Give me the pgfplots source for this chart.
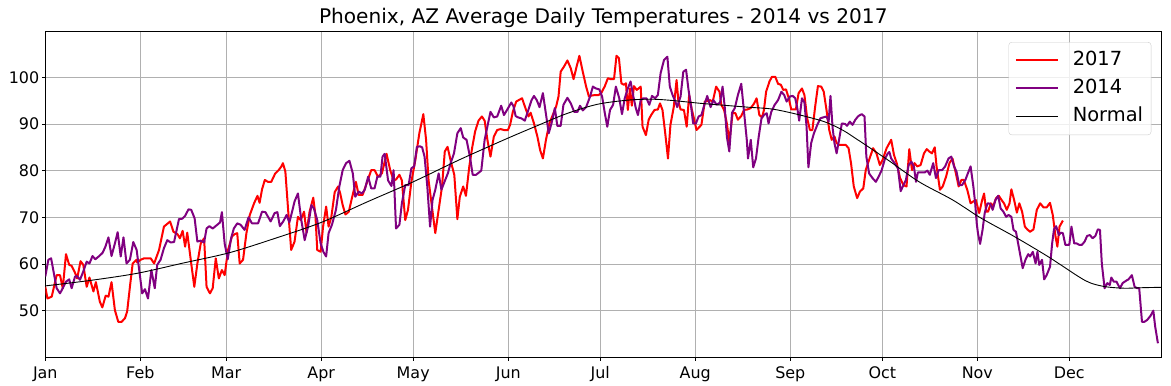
\documentclass[border=0pt]{standalone}
\usepackage{fontspec}
\setmainfont{DejaVu Sans}
\usepackage{pgfplots}
\pgfplotsset{compat=1.18}
\definecolor{gridgray}{HTML}{B0B0B0}
\definecolor{mplpurple}{HTML}{800080}
\definecolor{legedge}{HTML}{CCCCCC}
\begin{document}
\begin{tikzpicture}
\begin{axis}[
 name=ax,
 scale only axis, width=1116bp, height=326bp,
 xmin=0, xmax=364, ymin=40, ymax=109.85,
 xtick={0,31,59,90,120,151,181,212,243,273,304,334},
 xticklabels={Jan,Feb,Mar,Apr,May,Jun,Jul,Aug,Sep,Oct,Nov,Dec},
 ytick={50,60,70,80,90,100},
 grid=major, major grid style={gridgray, line width=0.8bp},
 tick align=outside, tick pos=left, major tick length=3.5bp,
 every tick/.style={black, line width=0.8bp},
 axis line style={black, line width=0.8bp},
 ticklabel style={font=\fontsize{16}{19}\selectfont},
 xticklabel style={yshift=-2.5bp},
 yticklabel style={xshift=1bp},
 /pgf/number format/assume math mode=true,
 title={Phoenix, AZ Average Daily Temperatures - 2014 vs 2017},
 title style={font=\fontsize{20.2}{24}\selectfont, at={(axis description cs:0.5,1)}, anchor=base, yshift=1.8bp, inner sep=0pt},
 legend style={at={(axis description cs:0.991,0.967)}, anchor=north east, draw=legedge, rounded corners=3bp, fill=white, fill opacity=0.8, text opacity=1, font=\fontsize{19.5}{23}\selectfont, inner xsep=6bp, inner ysep=7bp, row sep=5.5bp, nodes={inner sep=2bp, text depth=4bp}, /tikz/every odd column/.append style={column sep=12bp}},
 legend image code/.code={\draw[#1] (0bp,0bp) -- (42bp,0bp);},
 legend cell align=left,
]
\addplot[red, line width=2bp, line join=round] coordinates {
(0.0,55.1) (0.7,52.6) (2.1,53.0) (3.7,57.6) (4.8,57.6) (5.7,54.8) (6.75,62.1) (7.8,59.8) (8.6,59.6) (9.7,58.1) (10.4,56.9) (11.5,60.6) (12.4,59.8) (13.5,55.1) (14.4,57.1) (15.7,54.1) (16.5,56.1) (17.8,51.9) (18.6,50.7) (19.7,53.2) (20.6,53.0) (21.6,56.1) (22.7,50.1) (23.8,47.6) (24.9,47.6) (26.0,48.4) (26.7,49.8) (27.6,55.1) (28.5,60.1) (29.8,60.9)
(30.0,60.3) (31.1,60.9) (32.2,61.2) (34.4,61.2) (35.5,60.1) (37.1,63.0) (38.7,68.0) (40.7,69.1) (41.8,66.9) (43.1,66.4) (43.9,65.5) (44.8,67.1) (45.6,63.7) (46.3,66.7) (47.6,60.1) (48.6,55.1) (49.6,60.1) (50.7,64.4) (51.8,65.5) (52.6,55.1) (53.7,53.7) (54.6,54.8) (55.6,61.2) (56.6,56.9) (57.6,58.7) (58.5,57.6) (59.6,63.0) (60.9,65.9)
(61.8,66.4) (62.6,66.6) (63.4,60.1) (64.5,60.9) (65.6,66.6) (66.7,70.5) (68.1,73.0) (69.2,74.6) (69.9,73.1) (70.7,76.0) (71.6,78.0) (72.6,77.6) (73.7,77.6) (75.0,79.4) (76.1,80.1) (77.0,80.9) (77.5,81.6) (78.3,79.8) (79.2,71.6) (80.2,63.0) (81.3,64.8) (82.4,70.1) (83.3,69.4) (84.4,71.2) (85.2,66.7) (86.2,71.2) (87.4,74.2) (88.1,70.5) (88.7,63.0) (89.8,62.6) (90.6,68.0) (91.6,72.3)
(92.4,68.0) (93.3,70.1) (94.4,75.4) (95.5,76.6) (96.2,75.1) (97.0,72.6) (97.9,70.6) (99.0,71.2) (100.0,74.1) (101.3,77.6) (102.2,74.8) (103.5,74.8) (105.0,77.6) (106.3,80.1) (107.4,80.1) (108.5,78.7) (109.8,79.4) (111.3,83.6) (112.5,80.1) (113.6,77.9) (114.4,78.1) (115.5,79.1) (116.3,77.9) (117.4,69.4) (118.3,71.6) (119.4,77.6) (120.7,82.3) (122.0,88.0)
(123.3,92.1) (124.2,86.6) (125.0,78.0) (126.1,72.3) (127.2,66.6) (128.3,71.6) (129.4,76.6) (130.3,84.1) (131.2,85.1) (132.3,81.9) (133.4,79.1) (134.4,69.6) (135.2,74.4) (136.3,76.6) (137.2,74.6) (138.3,80.9) (139.2,84.8) (140.2,88.4) (141.3,90.7) (142.4,91.6) (143.3,90.7) (144.2,86.6) (145.2,83.0) (146.3,87.3) (147.4,88.7) (148.5,88.9) (149.6,88.7) (150.9,88.7) (151.6,89.8) (152.5,92.6)
(153.6,94.8) (154.4,95.1) (155.5,95.5) (156.6,93.4) (157.6,91.6) (158.3,92.4) (159.4,90.1) (160.5,87.3) (161.4,84.4) (162.3,82.6) (163.3,86.6) (164.4,90.1) (165.5,91.9) (166.6,93.7) (167.4,95.9) (168.1,101.2) (169.2,102.3) (170.3,103.6) (171.4,101.9) (172.3,99.6) (173.3,102.3) (174.2,104.6) (175.3,101.2) (176.4,98.0) (177.3,95.9) (178.3,96.1) (179.4,96.2) (180.5,96.2) (181.4,96.7) (182.5,98.1) (183.5,99.8)
(184.4,99.6) (185.5,99.6) (186.3,104.6) (187.1,104.1) (187.9,98.7) (188.7,98.4) (189.4,98.7) (190.0,93.0) (190.7,97.6) (191.3,93.9) (192.0,98.1) (192.9,97.3) (193.5,97.6) (194.2,98.0) (194.8,89.4) (195.9,87.6) (196.8,90.9) (197.6,91.9) (198.7,93.0) (199.8,93.1) (200.5,94.4) (201.3,93.0) (202.2,88.0) (203.1,82.6) (203.9,89.8) (205.0,93.7) (205.9,99.4) (206.5,94.8) (207.2,93.1) (208.3,93.0) (209.2,89.4) (210.0,96.2) (210.9,93.0) (211.5,91.4) (212.4,88.7) (214.0,89.8)
(215.1,94.8) (215.9,94.9) (216.8,95.1) (217.7,94.8) (218.8,98.0) (219.9,96.9) (220.5,94.1) (221.4,93.0) (222.3,90.1) (223.1,86.2) (224.2,92.4) (225.1,92.3) (225.9,90.9) (227.0,91.7) (227.9,93.0) (229.0,93.1) (230.1,93.4) (231.2,94.4) (232.0,95.5) (232.9,91.9) (233.8,91.4) (234.4,93.0) (235.1,96.9) (236.2,99.1) (237.0,100.1) (238.1,100.1) (239.0,98.6) (239.9,98.4) (240.7,97.3) (241.6,97.4) (242.5,95.5) (243.3,93.1) (244.8,93.1)
(245.7,96.6) (246.8,97.6) (247.6,96.2) (248.5,91.2) (249.4,88.7) (250.2,88.7) (251.1,93.7) (252.0,98.1) (253.1,98.0) (253.9,96.9) (254.8,93.0) (255.7,88.7) (256.5,86.6) (257.4,87.3) (258.1,85.9) (258.9,85.5) (260.0,85.5) (261.1,85.5) (262.0,84.8) (262.8,81.6) (263.7,76.6) (264.8,74.1) (265.7,75.5) (266.8,76.2) (267.6,80.1) (268.7,82.3) (270.0,84.8) (271.1,83.7) (272.2,81.2) (273.1,82.3) (274.4,84.8)
(275.9,86.6) (276.8,83.4) (277.7,81.6) (278.8,78.4) (279.9,76.9) (280.9,76.6) (281.8,84.6) (282.7,80.1) (283.5,81.6) (284.4,80.9) (285.5,81.2) (286.6,83.7) (287.5,84.6) (288.3,84.1) (289.2,83.7) (290.1,85.0) (290.7,80.9) (291.8,75.9) (292.7,76.6) (293.8,78.7) (294.9,81.6) (295.9,82.6) (297.0,79.4) (297.9,76.6) (298.8,78.0) (299.6,78.0) (300.7,75.9) (301.8,73.0) (302.7,73.4) (303.5,73.7) (304.6,70.9) (305.5,73.5) (306.2,75.1)
(306.9,71.2) (307.5,71.2) (308.4,73.0) (309.2,72.4) (310.1,74.1) (311.0,74.6) (311.9,73.7) (312.7,73.0) (313.6,71.6) (314.5,73.0) (315.1,76.0) (316.0,73.7) (316.9,71.0) (317.7,73.0) (318.6,71.2) (319.5,68.0) (320.3,67.4) (321.2,66.9) (322.3,67.4) (323.4,71.6) (324.5,73.0) (325.6,72.1) (326.6,72.1) (327.7,73.1) (328.6,70.5) (329.5,65.9) (330.1,63.7) (330.8,68.0) (331.9,69.3)
};
\addlegendentry{2017}
\addplot[mplpurple, line width=2bp, line join=round] coordinates {
(0.0,57.3) (1.0,60.9) (1.9,61.2) (2.6,58.7) (3.7,54.8) (4.8,53.7) (5.7,54.8) (6.75,56.2) (7.8,56.7) (8.6,54.8) (9.7,57.3) (10.4,57.4) (11.3,56.6) (12.4,58.4) (13.5,60.5) (14.4,60.1) (15.4,61.7) (16.3,61.0) (17.6,61.7) (18.7,62.4) (19.6,63.7) (20.6,65.7) (21.6,61.7) (22.7,64.4) (23.6,66.8) (24.6,61.6) (25.5,65.7) (26.5,60.1) (27.6,60.9) (28.7,64.7) (29.8,63.0)
(31.6,53.7) (32.5,54.6) (33.5,52.6) (34.6,58.7) (35.7,54.8) (36.5,59.8) (37.6,60.9) (38.7,63.4) (39.8,65.1) (40.9,64.6) (42.0,64.7) (43.6,69.6) (44.7,69.7) (45.6,70.3) (46.7,71.7) (47.6,71.6) (48.7,69.8) (49.6,64.8) (50.7,65.0) (51.8,64.6) (52.6,67.6) (53.5,68.1) (54.6,67.6) (56.1,68.4) (57.0,68.9) (57.6,71.1) (58.5,64.4) (59.5,61.0) (60.6,65.5)
(61.5,67.6) (62.6,68.7) (63.7,68.4) (65.0,67.3) (66.3,70.0) (67.4,68.7) (69.4,68.7) (70.7,71.2) (71.8,71.1) (73.5,69.1) (74.8,70.9) (75.7,71.1) (76.5,68.1) (77.6,69.1) (78.7,70.5) (79.6,68.9) (80.5,71.2) (81.3,73.4) (82.4,75.1) (83.5,69.4) (84.6,65.1) (85.7,68.0) (86.8,72.6) (87.6,71.9) (88.7,69.4) (89.8,64.4) (90.7,62.6) (91.6,61.6)
(92.4,66.6) (93.5,68.4) (94.8,71.6) (95.9,76.6) (97.0,80.1) (98.1,81.6) (99.2,82.1) (100.3,79.4) (101.1,74.4) (102.2,75.5) (103.3,75.1) (104.2,75.9) (105.3,78.7) (106.3,76.2) (107.4,76.2) (108.3,78.7) (109.3,78.7) (110.0,83.0) (110.7,83.6) (111.8,77.9) (112.9,76.7) (113.6,80.1) (114.4,67.6) (115.5,68.4) (116.3,73.0) (117.4,76.9) (118.5,76.9) (119.4,80.5) (120.3,80.9) (121.2,85.1) (122.2,85.2)
(122.9,85.0) (123.7,83.0) (124.6,76.6) (125.5,68.0) (126.3,73.7) (127.2,75.9) (128.3,79.4) (129.2,75.9) (130.2,77.6) (131.3,79.4) (132.2,81.6) (133.3,83.7) (134.4,88.0) (135.5,89.1) (136.3,87.1) (137.4,86.6) (138.5,83.0) (139.4,79.1) (140.5,79.1) (142.2,80.0) (143.3,86.6) (144.4,90.1) (145.2,92.6) (146.3,91.4) (147.4,91.6) (148.7,93.9) (149.6,91.9) (150.7,93.1) (152.0,94.6) (152.7,93.8)
(153.4,91.7) (154.2,91.4) (155.3,91.2) (156.4,90.7) (157.5,92.9) (158.6,95.1) (159.4,96.0) (160.3,95.1) (161.2,93.6) (162.3,96.6) (163.1,93.0) (164.2,88.0) (165.1,90.1) (166.2,93.4) (167.0,89.6) (168.1,89.6) (169.0,94.1) (170.3,95.6) (171.4,94.4) (172.5,92.6) (173.6,92.6) (174.4,93.9) (175.3,92.9) (176.4,93.6) (177.7,95.9) (178.6,98.0) (179.6,97.6) (180.7,97.4) (181.6,95.9) (182.5,92.3) (183.3,89.4)
(184.2,93.0) (185.2,94.1) (186.1,98.0) (187.2,95.5) (188.1,92.1) (189.0,95.5) (190.0,97.6) (190.9,99.1) (191.8,95.9) (192.6,93.4) (193.3,91.9) (194.2,95.1) (195.0,95.5) (196.1,95.5) (197.0,94.1) (197.9,96.0) (198.9,95.5) (199.8,96.2) (200.7,100.9) (201.8,103.7) (202.9,104.4) (203.7,98.0) (204.6,96.2) (205.5,94.8) (206.1,93.6) (207.2,95.9) (208.1,101.2) (209.0,101.6) (209.8,97.3) (210.7,93.4) (211.3,90.1) (212.2,90.1) (213.1,91.6) (214.0,91.9)
(215.1,94.4) (215.9,96.0) (217.0,93.6) (217.9,95.1) (219.0,94.1) (220.1,94.6) (220.9,98.0) (221.6,93.7) (222.3,87.3) (223.1,84.1) (224.0,92.4) (224.9,93.4) (225.9,96.2) (227.0,98.6) (227.9,92.6) (228.8,86.6) (229.2,82.6) (230.1,86.6) (230.9,80.7) (231.8,82.6) (232.7,87.3) (233.6,91.2) (234.4,91.9) (235.3,92.3) (235.9,90.1) (236.8,92.6) (237.9,94.1) (239.0,95.1) (240.1,96.9) (241.0,96.2) (241.8,94.8) (242.9,95.9) (243.8,96.0) (244.6,95.5)
(245.2,93.7) (245.9,90.7) (246.8,95.5) (247.6,94.6) (248.3,89.4) (248.9,80.7) (249.8,85.9) (250.7,88.0) (251.8,89.8) (252.8,91.2) (253.7,91.4) (254.8,91.6) (255.5,90.5) (256.1,96.0) (256.8,89.1) (257.4,85.9) (258.1,83.7) (258.9,86.6) (259.8,90.1) (260.9,90.0) (261.5,89.6) (262.4,90.5) (263.3,89.8) (264.2,90.9) (265.2,91.7) (266.3,92.1) (267.2,91.6) (267.8,83.0) (268.7,79.4) (269.8,78.4) (270.9,77.6) (271.8,78.7) (272.8,80.1) (273.9,82.6) (274.8,83.7) (275.3,84.0)
(275.9,82.6) (277.0,81.6) (278.1,80.5) (279.0,75.6) (279.9,76.9) (280.7,78.0) (281.6,81.2) (282.5,81.9) (283.3,80.9) (284.0,77.6) (284.6,79.6) (285.7,79.6) (286.8,79.6) (287.7,80.0) (288.5,79.1) (289.6,81.6) (290.5,78.4) (291.4,80.1) (292.5,80.1) (293.5,80.9) (294.6,82.6) (295.5,83.0) (296.4,80.9) (297.2,79.8) (298.1,76.9) (299.0,76.9) (300.1,78.0) (300.9,79.4) (301.8,80.9) (302.7,76.6) (303.3,73.0) (303.8,68.7) (304.2,66.6) (304.9,64.3) (305.7,67.3)
(306.4,70.9) (307.3,73.0) (308.2,72.9) (309.0,71.6) (309.9,73.7) (310.8,74.6) (311.6,71.9) (312.5,71.2) (313.4,70.1) (314.2,70.5) (315.1,70.1) (315.8,67.3) (316.6,66.9) (317.5,63.7) (318.2,61.2) (318.8,59.1) (319.7,60.9) (320.6,62.1) (321.2,61.6) (322.1,62.6) (323.0,60.1) (323.6,62.6) (324.2,59.8) (325.1,60.9) (325.8,56.7) (326.6,57.6) (327.7,59.4) (328.4,64.4) (329.0,67.4) (329.7,68.1) (330.6,66.2) (331.2,66.7) (331.9,66.6) (332.7,64.1) (333.4,64.1) (334.0,64.1) (334.7,68.0) (335.6,64.4)
(336.4,64.4) (337.2,64.1) (338.1,64.1) (339.0,64.8) (339.8,66.0) (340.7,66.2) (341.6,65.5) (342.5,66.0) (343.3,67.4) (344.0,67.3) (344.6,60.1) (345.5,54.8) (346.4,55.9) (347.2,55.5) (347.7,57.1) (348.5,56.2) (349.4,56.2) (350.5,54.8) (351.4,55.9) (352.5,56.4) (353.3,56.7) (354.4,57.6) (355.3,55.1) (356.2,54.8) (356.8,54.8) (357.7,47.6) (358.5,47.6) (359.4,48.0) (360.5,48.9) (361.4,50.0) (362.0,46.6) (362.9,43.0)
};
\addlegendentry{2014}
\addplot[black, line width=0.9bp, smooth] coordinates {
(0,55.3) (15,56.5) (30,58.0) (45,60.2) (60,62.4) (75,65.5) (90,68.9) (105,73.3) (120,77.6) (135,82.3) (150,86.7) (160,89.5) (170,92.2) (180,94.2) (190,95.1) (198,95.3) (205,95.0) (214,94.4) (229,93.6) (237,93.2) (245,92.1) (254,90.5) (260,88.7) (265,86.6) (275,82.2) (285,77.6) (296,73.7) (305,69.9) (316,65.9) (327,61.6) (337,57.3) (341,55.9) (346,55.1) (352,54.8) (357,54.9) (364,55.0)
};
\addlegendentry{Normal}
\end{axis}
\pgfresetboundingbox
\path[use as bounding box] (ax.south west) ++(-45.3bp,-28.7bp) rectangle ++(1171bp,386bp);
\end{tikzpicture}
\end{document}
